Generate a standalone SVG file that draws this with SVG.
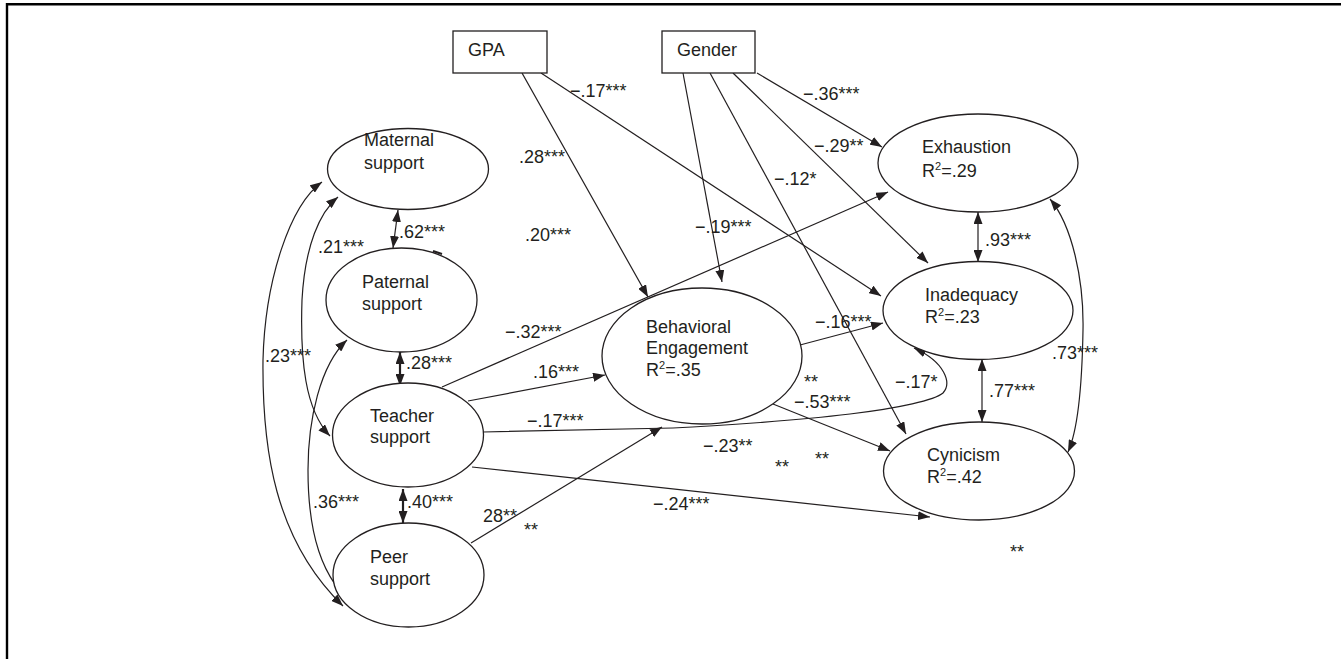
<svg xmlns="http://www.w3.org/2000/svg" width="1341" height="659" viewBox="0 0 1341 659">
<style>
text{font-family:"Liberation Sans",Arial,sans-serif;font-size:18px;fill:#231f20}
.n{fill:#fff;stroke:#231f20;stroke-width:1.3}
.c{fill:none;stroke:#231f20;stroke-width:1.2}
.a{marker-end:url(#ah)}
.d{marker-end:url(#ah);marker-start:url(#ah)}
.t{stroke-width:2.2}
.sup{font-size:11px}
</style>
<defs>
<marker id="ah" viewBox="0 0 12 9" refX="12" refY="4.5" markerWidth="12" markerHeight="9" markerUnits="userSpaceOnUse" orient="auto-start-reverse">
<path d="M0,0 L12,4.5 L0,9 z" fill="#231f20"/>
</marker>
</defs>
<rect width="1341" height="659" fill="#fff"/>
<path d="M7 659 L7 4.2 L1341 4.2" fill="none" stroke="#000" stroke-width="2.4"/>

<g id="connectors">
<path class="c a" d="M522 73 L648 297"/>
<path class="c a" d="M541 73 L881 296"/>
<path class="c a" d="M683 73 L722 282"/>
<path class="c a" d="M710 73 L906 434"/>
<path class="c a" d="M733 73 L928 263"/>
<path class="c a" d="M757 73 L882 147"/>
<path class="c a" d="M442 387 L888 192"/>
<path class="c a" d="M468 401 L605 375"/>
<path class="c a" d="M800 345 L883 323"/>
<path class="c a" d="M773 404 L890 451"/>
<path class="c a" d="M472 467 L930 517"/>
<path class="c a" d="M471 543 L662 427"/>
<path class="c a" d="M483 432 L673 428 C720 426 800 420 850 414 C900 408 935 400 943 393 C952 383 945 362 914 348"/>
<path class="c d" d="M398 210 L393 248"/>
<path class="c d t" d="M400 352 L400 386"/>
<path class="c d t" d="M403 489 L403 523"/>
<path class="c d" d="M978 212 L978 262"/>
<path class="c d" d="M982 359 L982 422"/>
<path class="c d" d="M1050 199 C1072 225 1084 280 1083 330 C1082 390 1078 430 1068 452"/>
<path class="c d" d="M338 197 C320 212 305 245 302 300 C300 360 305 410 330 436"/>
<path class="c d" d="M322 182 C290 205 265 280 263 360 C262 450 275 540 343 606"/>
<path class="c d" d="M347 340 C320 365 308 420 308 470 C308 530 320 580 358 608"/>
<path d="M433 251 L442 254" stroke="#231f20" stroke-width="2"/>
</g>

<g id="gpa"><rect class="n" x="453" y="31" width="94" height="42"/><text x="468" y="56">GPA</text></g>
<g id="gender"><rect class="n" x="662" y="31" width="93" height="42"/><text x="677" y="56">Gender</text></g>
<g id="maternal"><ellipse class="n" cx="408" cy="169" rx="80.5" ry="40.5"/><text x="364" y="146">Maternal</text><text x="364" y="169">support</text></g>
<g id="paternal"><ellipse class="n" cx="401.5" cy="300" rx="75.5" ry="52"/><text x="362" y="288">Paternal</text><text x="362" y="310">support</text></g>
<g id="teacher"><ellipse class="n" cx="408" cy="435" rx="75.5" ry="52"/><text x="370" y="422">Teacher</text><text x="370" y="443">support</text></g>
<g id="peer"><ellipse class="n" cx="408.5" cy="575" rx="75.5" ry="52"/><text x="370" y="563">Peer</text><text x="370" y="585">support</text></g>
<g id="behavioral"><ellipse class="n" cx="702" cy="356" rx="100" ry="68"/><text x="646" y="333">Behavioral</text><text x="646" y="354">Engagement</text><text x="646" y="376">R<tspan class="sup" dy="-7">2</tspan><tspan dy="7">=.35</tspan></text></g>
<g id="exhaustion"><ellipse class="n" cx="978" cy="163" rx="100" ry="49"/><text x="922" y="153">Exhaustion</text><text x="922" y="177">R<tspan class="sup" dy="-7">2</tspan><tspan dy="7">=.29</tspan></text></g>
<g id="inadequacy"><ellipse class="n" cx="978" cy="310.5" rx="95" ry="49"/><text x="925" y="301">Inadequacy</text><text x="925" y="323">R<tspan class="sup" dy="-7">2</tspan><tspan dy="7">=.23</tspan></text></g>
<g id="cynicism"><ellipse class="n" cx="979" cy="471" rx="95.5" ry="49"/><text x="927" y="461">Cynicism</text><text x="927" y="483">R<tspan class="sup" dy="-7">2</tspan><tspan dy="7">=.42</tspan></text></g>

<g id="labels">
<text x="570" y="97">−.17***</text>
<text x="519" y="163">.28***</text>
<text x="803" y="100">−.36***</text>
<text x="814" y="152">−.29**</text>
<text x="774" y="185">−.12*</text>
<text x="399" y="238">.62***</text>
<text x="318" y="253">.21***</text>
<text x="525" y="241">.20***</text>
<text x="695" y="233">−.19***</text>
<text x="985" y="246">.93***</text>
<text x="505" y="338">−.32***</text>
<text x="815" y="328">−.16***</text>
<text x="1052" y="359">.73***</text>
<text x="406" y="369">.28***</text>
<text x="265" y="362">.23***</text>
<text x="533" y="378">.16***</text>
<text x="804" y="388">**</text>
<text x="895" y="388">−.17*</text>
<text x="989" y="397">.77***</text>
<text x="794" y="408">−.53***</text>
<text x="527" y="427">−.17***</text>
<text x="703" y="452">−.23**</text>
<text x="815" y="465">**</text>
<text x="775" y="473">**</text>
<text x="313" y="508">.36***</text>
<text x="407" y="508">.40***</text>
<text x="653" y="510">−.24***</text>
<text x="483" y="522">28**</text>
<text x="524" y="536">**</text>
<text x="1010" y="558">**</text>
</g>
</svg>
